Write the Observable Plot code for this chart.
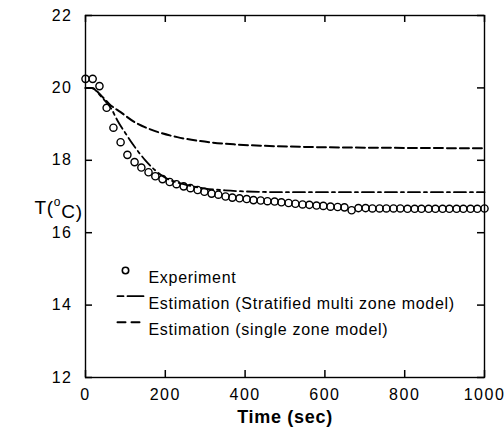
<!DOCTYPE html>
<html><head><meta charset="utf-8">
<script src="https://cdn.jsdelivr.net/npm/d3@7"></script>
<script src="https://cdn.jsdelivr.net/npm/@observablehq/plot@0.6"></script>
<style>
body{margin:0;background:#fff}
svg text{letter-spacing:0.7px}
g[aria-label="x-axis tick label"] text, g[aria-label="y-axis tick label"] text{letter-spacing:1.5px}
</style>
</head><body><div id="chart"></div>
<script>
const expTime = [0,18,35,53,70,88,105,123,140,158,175,193,211,228,246,263,281,298,316,333,351,368,386,404,421,439,456,474,491,509,526,544,561,579,596,614,632,649,667,684,702,719,737,754,772,789,807,825,842,860,877,895,912,930,947,965,982,1000];
const expTemp = [20.25,20.25,20.05,19.45,18.9,18.5,18.15,17.95,17.8,17.67,17.56,17.48,17.4,17.34,17.28,17.23,17.18,17.13,17.08,17.05,17.0,16.97,16.95,16.93,16.9,16.89,16.87,16.86,16.84,16.82,16.8,16.78,16.77,16.75,16.74,16.72,16.71,16.7,16.62,16.68,16.68,16.67,16.67,16.67,16.67,16.67,16.66,16.66,16.66,16.66,16.66,16.66,16.66,16.66,16.66,16.66,16.66,16.67];
const multiTime = [0,15,40,65,80,100,120,150,175,200,250,300,350,400,500,600,800,1000];
const multiTemp = [20.0,20.0,19.75,19.42,19.1,18.75,18.42,18.0,17.72,17.52,17.33,17.22,17.17,17.14,17.12,17.12,17.12,17.12];
const singleTime = [0,15,40,60,88,121,171,230,288,372,450,550,700,850,1000];
const singleTemp = [20.0,20.0,19.78,19.55,19.33,19.07,18.82,18.64,18.53,18.44,18.4,18.37,18.35,18.34,18.33];
const xTicks = [0,200,400,600,800,1000];
const yTicks = [12,14,16,18,20,22];
const xLabel = "Time (sec)";
const yLabel = "T(°C)";
const legendLabels = ["Experiment","Estimation (Stratified multi zone model)","Estimation (single zone model)"];

const W = 504, H = 434, mL = 85, mR = 20, mT = 15, mB = 57;
const innerW = W - mL - mR, innerH = H - mT - mB, tick = 7;
const expData = expTime.map((t,i)=>({t, v: expTemp[i]}));
const multiData = multiTime.map((t,i)=>({t, v: multiTemp[i]}));
const singleData = singleTime.map((t,i)=>({t, v: singleTemp[i]}));
const lineShape = {draw(ctx, l){ctx.moveTo(0,0); ctx.lineTo(0,-l);}};
const plain = d => String(d);

const chart = Plot.plot({
  width: W, height: H,
  marginLeft: mL, marginRight: mR, marginTop: mT, marginBottom: mB,
  style: {fontFamily: "'Liberation Sans', Arial, sans-serif", fontSize: "16px", background: "white", color: "black"},
  x: {domain: [0,1000]},
  y: {domain: [12,22]},
  marks: [
    Plot.frame({strokeWidth: 1.4}),
    Plot.axisX({anchor: "bottom", ticks: xTicks, tickSize: 0, tickPadding: 11, tickFormat: plain, label: null}),
    Plot.axisY({anchor: "left", ticks: yTicks, tickSize: 0, tickPadding: 13, tickFormat: plain, label: null}),
    // inward ticks on all four sides
    Plot.ruleX(xTicks, {insetTop: innerH - tick, strokeWidth: 1.5}),
    Plot.ruleX(xTicks, {insetBottom: innerH - tick, strokeWidth: 1.5}),
    Plot.ruleY(yTicks, {insetRight: innerW - tick, strokeWidth: 1.5}),
    Plot.ruleY(yTicks, {insetLeft: innerW - tick, strokeWidth: 1.5}),
    Plot.line(singleData, {x: "t", y: "v", curve: "monotone-x", strokeWidth: 2, strokeDasharray: "9,4"}),
    Plot.line(multiData, {x: "t", y: "v", curve: "monotone-x", strokeWidth: 1.8, strokeDasharray: "12,4,3,4"}),
    Plot.dot(expData, {x: "t", y: "v", r: 3.6, strokeWidth: 1.4, stroke: "black", fill: "none"}),
    Plot.dot([0], {frameAnchor: "top-left", dx: 40, dy: 255, r: 3.2, strokeWidth: 1.6, stroke: "black", fill: "none"}),
    Plot.vector([0], {frameAnchor: "top-left", dx: 32, dy: 280.7, rotate: 90, length: 26, anchor: "start", shape: lineShape, strokeWidth: 1.8, strokeDasharray: "6,4,16,40"}),
    Plot.vector([0], {frameAnchor: "top-left", dx: 32, dy: 306.7, rotate: 90, length: 26, anchor: "start", shape: lineShape, strokeWidth: 2, strokeDasharray: "8,6"}),
    Plot.text([legendLabels[0]], {frameAnchor: "top-left", dx: 63, dy: 255.7, textAnchor: "start", fontSize: 16}),
    Plot.text([legendLabels[1]], {frameAnchor: "top-left", dx: 63, dy: 281.7, textAnchor: "start", fontSize: 16}),
    Plot.text([legendLabels[2]], {frameAnchor: "top-left", dx: 63, dy: 307.7, textAnchor: "start", fontSize: 16}),
    Plot.text([xLabel], {frameAnchor: "bottom", dy: 45, fontSize: 18, fontWeight: "bold"}),
    Plot.text([yLabel], {frameAnchor: "left", dx: -51, dy: 11, fontSize: 19})
  ]
});
document.getElementById("chart").appendChild(chart);
// superscript "o" in the y label
d3.select(chart).selectAll("text").filter(function(){return this.textContent === yLabel;}).each(function(){
  const t = d3.select(this);
  t.text(null);
  t.append("tspan").text("T(");
  t.append("tspan").attr("font-size", 12).attr("dy", "-0.6em").text("o");
  t.append("tspan").attr("dy", "0.6em").text("C)");
});
</script>
</body></html>
